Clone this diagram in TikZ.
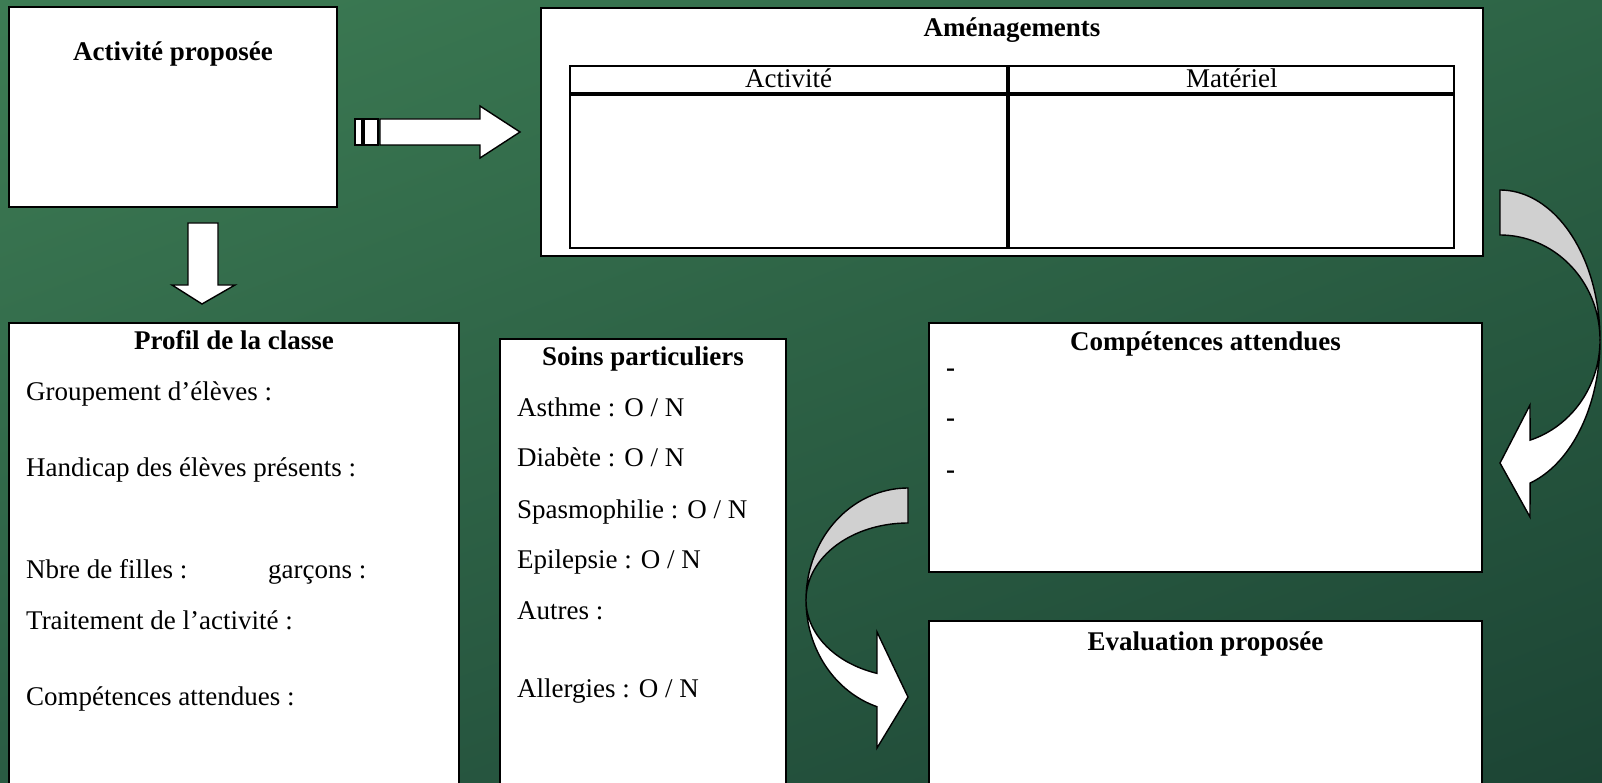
\documentclass[tikz,border=0pt]{standalone}
\usepackage{fontspec}
\setmainfont{Liberation Serif}
\usetikzlibrary{positioning,shadings}
\definecolor{boardul}{HTML}{3D7C54}
\definecolor{boardur}{HTML}{2D6446}
\definecolor{boardll}{HTML}{2A5C43}
\definecolor{boardlr}{HTML}{1C4434}
\definecolor{backface}{HTML}{D0D0D0}
\begin{document}
\begin{tikzpicture}[x=1pt,y=-1pt]
    \tikzstyle{panel} = [draw, fill=white, line width=2pt, anchor=north west, inner sep=0pt]
    \tikzstyle{cell} = [draw, line width=2.2pt, anchor=north west, inner sep=0pt]
    \tikzstyle{head} = [anchor=base, inner sep=0pt, font=\fontsize{27}{32}\selectfont\bfseries]
    \tikzstyle{body} = [anchor=base west, inner sep=0pt, font=\fontsize{27}{32}\selectfont]
    \tikzstyle{blockarrow} = [draw, fill=white, line width=1.4pt, line join=miter]
        \clip (0,0) rectangle (1602,783);
        \shade[upper left=boardul, upper right=boardur, lower left=boardll, lower right=boardlr] (0,0) rectangle (1602,783);
        % top row
        \node[panel, minimum width=328pt, minimum height=200pt] (act) at (8,6) {};
        \node[head, yshift=-55pt] (acttitle) at (act.north) {Activité proposée};
        \node[panel, minimum width=942pt, minimum height=248pt] (amen) at (540,7) {};
        \node[head, yshift=-30pt] (amentitle) at (amen.north) {Aménagements};
        % table
        \node[cell, minimum width=437pt, minimum height=27pt] (hact) at (569,65) {};
        \node[cell, minimum width=445pt, minimum height=27pt] (hmat) at (hact.north east) {};
        \node[cell, minimum width=437pt, minimum height=153pt] (bact) at (hact.south west) {};
        \node[cell, minimum width=445pt, minimum height=153pt] (bmat) at (hmat.south west) {};
        \node[anchor=base, inner sep=0pt, font=\fontsize{27}{32}\selectfont, yshift=-23pt] at (hact.north) {Activité};
        \node[anchor=base, inner sep=0pt, font=\fontsize{27}{32}\selectfont, yshift=-23pt] at (hmat.north) {Matériel};
        % striped arrow
        \draw[blockarrow] (355,119) rectangle (362,145);
        \draw[blockarrow] (364,119) rectangle (378,145);
        \draw[blockarrow] (380,119) -- (480,119) -- (480,106) -- (520,132) -- (480,158) -- (480,145) -- (380,145) -- cycle;
        % down arrow
        \draw[blockarrow] (188,223) -- (218,223) -- (218,285) -- (235,285) -- (202,304) -- (172,285) -- (188,285) -- cycle;
        % profil
        \node[panel, minimum width=450pt, minimum height=480pt] (profil) at (8,322) {};
        \node[head, yshift=-27pt] (profiltitle) at (profil.north) {Profil de la classe};
        \node[body, xshift=18pt, yshift=-78pt] (grp) at (profil.north west) {Groupement d’élèves :};
        \node[body, xshift=18pt, yshift=-154pt] (hand) at (profil.north west) {Handicap des élèves présents :};
        \node[body, xshift=18pt, yshift=-256pt] (filles) at (profil.north west) {Nbre de filles :};
        \node[body, xshift=260pt, yshift=-256pt] (garcons) at (profil.north west) {garçons :};
        \node[body, xshift=18pt, yshift=-307pt] (trait) at (profil.north west) {Traitement de l’activité :};
        \node[body, xshift=18pt, yshift=-383pt] (compp) at (profil.north west) {Compétences attendues :};
        % soins
        \node[panel, minimum width=286pt, minimum height=470pt] (soins) at (499,338) {};
        \node[head, yshift=-27pt] (soinstitle) at (soins.north) {Soins particuliers};
        \node[body, xshift=18pt, yshift=-78pt] (asthme) at (soins.north west) {Asthme : O / N};
        \node[body, xshift=18pt, yshift=-128pt] (diabete) at (soins.north west) {Diabète : O / N};
        \node[body, xshift=18pt, yshift=-180pt] (spasmo) at (soins.north west) {Spasmophilie : O / N};
        \node[body, xshift=18pt, yshift=-230pt] (epil) at (soins.north west) {Epilepsie : O / N};
        \node[body, xshift=18pt, yshift=-281pt] (autres) at (soins.north west) {Autres :};
        \node[body, xshift=18pt, yshift=-359pt] (allerg) at (soins.north west) {Allergies : O / N};
        % competences
        \node[panel, minimum width=553pt, minimum height=249pt] (comp) at (928,322) {};
        \node[head, yshift=-28pt] (comptitle) at (comp.north) {Compétences attendues};
        \node[body, xshift=18pt, yshift=-54pt, font=\fontsize{27}{32}\selectfont\bfseries] (d1) at (comp.north west) {-};
        \node[body, xshift=18pt, yshift=-104pt, font=\fontsize{27}{32}\selectfont\bfseries] (d2) at (comp.north west) {-};
        \node[body, xshift=18pt, yshift=-156pt, font=\fontsize{27}{32}\selectfont\bfseries] (d3) at (comp.north west) {-};
        % evaluation
        \node[panel, minimum width=553pt, minimum height=200pt] (eval) at (928,620) {};
        \node[head, yshift=-30pt] (evaltitle) at (eval.north) {Evaluation proposée};
        % curved arrow right
        \draw[blockarrow, fill=backface] plot[domain=-90:0, samples=40] ({1500+100*cos(\x)}, {340+150*sin(\x)})
            -- plot[domain=0:-90, samples=40] ({1500+100*cos(\x)}, {340+105*sin(\x)}) -- cycle;
        \draw[blockarrow] plot[domain=0:72.5, samples=40] ({1500+100*cos(\x)}, {340+150*sin(\x)})
            -- (1530,517) -- (1500,463) -- (1530,405)
            -- plot[domain=72.5:0, samples=40] ({1500+100*cos(\x)}, {340+105*sin(\x)}) -- cycle;
        % curved arrow middle
        \draw[blockarrow, fill=backface] plot[domain=270:180, samples=40] ({908+102*cos(\x)}, {600+112*sin(\x)})
            -- plot[domain=180:270, samples=40] ({908+102*cos(\x)}, {600+77*sin(\x)}) -- cycle;
        \draw[blockarrow] plot[domain=180:107.7, samples=40] ({908+102*cos(\x)}, {600+112*sin(\x)})
            -- (877,748) -- (908,697) -- (877,632)
            -- plot[domain=107.7:180, samples=40] ({908+102*cos(\x)}, {600+77*sin(\x)}) -- cycle;
    \end{tikzpicture}
\end{document}
